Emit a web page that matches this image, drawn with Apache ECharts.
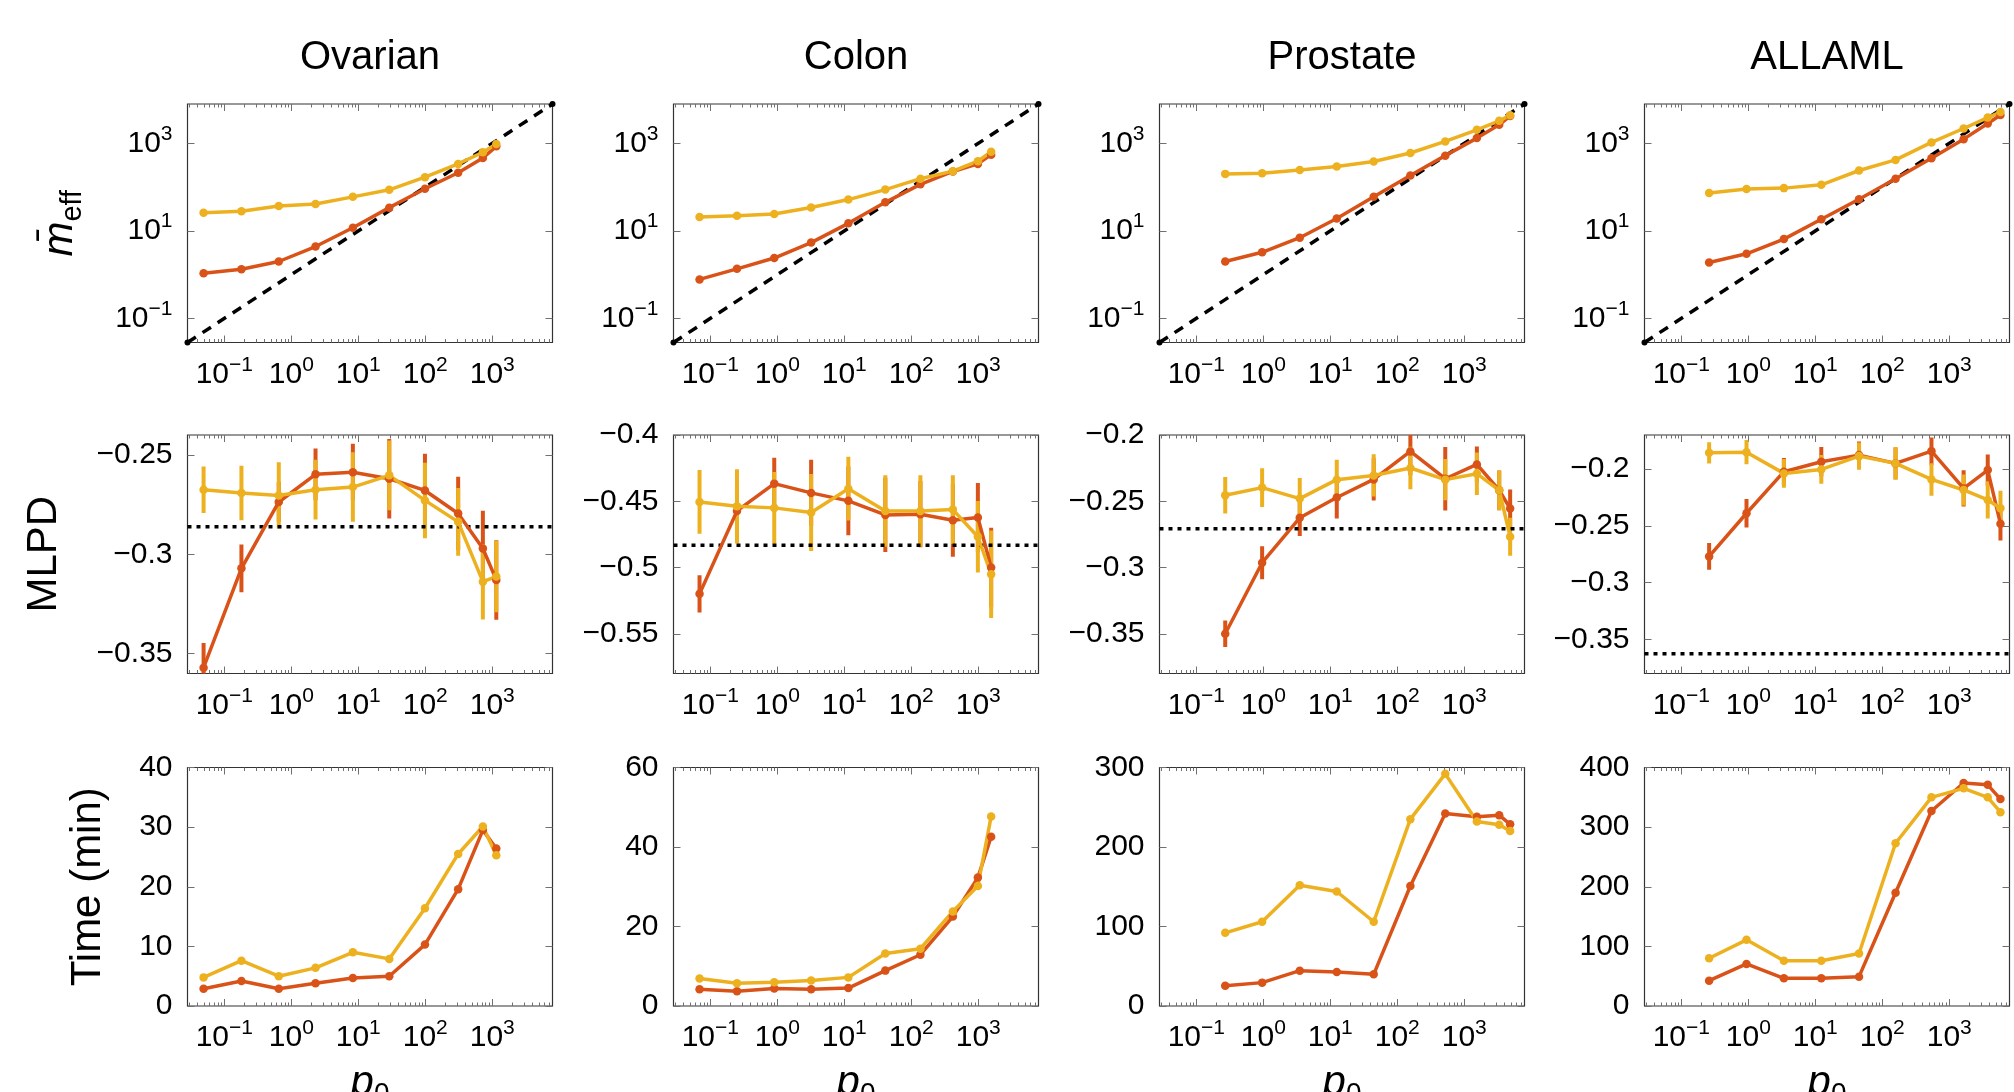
<!DOCTYPE html>
<html>
<head>
<meta charset="utf-8">
<script src="https://cdn.jsdelivr.net/npm/echarts@6/dist/echarts.min.js"></script>
<style>
  html, body { margin: 0; padding: 0; background: #fff; }
  #chart { width: 2014px; height: 1092px; }
</style>
</head>
<body>
<div id="chart"></div>
<script>
// column titles
const datasetNames = ["Ovarian", "Colon", "Prostate", "ALLAML"];

// p0 (x values, log axis)
const ovarianP0 = [0.049, 0.18, 0.65, 2.3, 8.3, 29, 99, 310, 725, 1150];
const colonP0 = [0.069, 0.25, 0.9, 3.2, 11.5, 41, 137, 418, 988, 1560];
const prostateP0 = [0.27, 0.96, 3.5, 12.5, 44.5, 157, 521, 1545, 3330, 4850];
const allamlP0 = [0.26, 0.94, 3.4, 12.3, 45, 158, 543, 1640, 3760, 5820];

// row 1: mean effective number of features
const ovarianMeffRed = [1.08, 1.33, 2.0, 4.4, 11.8, 34, 92, 213, 464, 855];
const ovarianMeffYellow = [26, 28, 37, 41, 60, 87, 169, 340, 627, 967];
const colonMeffRed = [0.78, 1.36, 2.4, 5.4, 14.9, 45, 116, 228, 340, 553];
const colonMeffYellow = [20.7, 22.2, 24.3, 34.4, 52, 88, 156, 232, 391, 647];
const prostateMeffRed = [2.0, 3.25, 7.0, 19.2, 60, 185, 525, 1320, 2650, 4250];
const prostateMeffYellow = [201, 208, 248, 296, 384, 604, 1110, 2040, 3270, 4400];
const allamlMeffRed = [1.9, 3.0, 6.5, 18.4, 53, 155, 457, 1250, 2850, 4470];
const allamlMeffYellow = [73.5, 90.6, 95, 113, 240, 419, 1054, 2190, 3890, 5220];

// row 2: MLPD with error bars
const ovarianMlpdRed = [-0.3571, -0.3071, -0.2737, -0.2598, -0.2587, -0.262, -0.2679, -0.2795, -0.2971, -0.3129];
const ovarianMlpdRedErr = [0.0125, 0.012, 0.01, 0.013, 0.0143, 0.02, 0.0185, 0.0185, 0.019, 0.02];
const ovarianMlpdYellow = [-0.2675, -0.2692, -0.2704, -0.2675, -0.2662, -0.2603, -0.2729, -0.2837, -0.3138, -0.3112];
const ovarianMlpdYellowErr = [0.0117, 0.0137, 0.0167, 0.015, 0.0175, 0.0175, 0.019, 0.017, 0.019, 0.018];
const colonMlpdRed = [-0.5199, -0.4573, -0.4367, -0.4437, -0.4497, -0.4603, -0.4598, -0.4643, -0.4623, -0.5];
const colonMlpdRedErr = [0.014, 0.02, 0.0196, 0.025, 0.026, 0.028, 0.025, 0.0276, 0.026, 0.03];
const colonMlpdYellow = [-0.4505, -0.4538, -0.455, -0.4585, -0.4405, -0.4573, -0.4573, -0.4563, -0.4768, -0.5051];
const colonMlpdYellowErr = [0.024, 0.028, 0.027, 0.029, 0.024, 0.027, 0.027, 0.026, 0.027, 0.033];
const prostateMlpdRed = [-0.35, -0.2964, -0.2625, -0.2472, -0.2335, -0.2124, -0.233, -0.2222, -0.2417, -0.2555];
const prostateMlpdRedErr = [0.01, 0.0125, 0.0138, 0.0158, 0.016, 0.018, 0.024, 0.0135, 0.015, 0.0143];
const prostateMlpdYellow = [-0.2455, -0.2397, -0.248, -0.2337, -0.2305, -0.2249, -0.2337, -0.2292, -0.2417, -0.2768];
const prostateMlpdYellowErr = [0.0138, 0.0147, 0.0155, 0.015, 0.016, 0.016, 0.0155, 0.016, 0.015, 0.0143];
const allamlMlpdRed = [-0.2769, -0.2389, -0.2023, -0.1936, -0.1877, -0.195, -0.1842, -0.217, -0.2009, -0.2482];
const allamlMlpdRedErr = [0.0117, 0.0125, 0.012, 0.013, 0.012, 0.014, 0.012, 0.016, 0.0137, 0.0146];
const allamlMlpdYellow = [-0.1857, -0.1851, -0.2038, -0.2003, -0.1886, -0.195, -0.2091, -0.2184, -0.2272, -0.2345];
const allamlMlpdYellowErr = [0.0094, 0.0107, 0.0127, 0.0127, 0.012, 0.0145, 0.0143, 0.0136, 0.0164, 0.0155];
// dotted reference level per column
const mlpdBaseline = [-0.2862, -0.4833, -0.2708, -0.3626];

// row 3: time (min)
const ovarianTimeRed = [2.9, 4.2, 2.9, 3.8, 4.7, 5.0, 10.3, 19.6, 29.5, 26.4];
const ovarianTimeYellow = [4.8, 7.6, 5.0, 6.4, 9.0, 7.9, 16.4, 25.5, 30.1, 25.3];
const colonTimeRed = [4.2, 3.7, 4.4, 4.2, 4.5, 8.9, 12.9, 22.5, 32.3, 42.6];
const colonTimeYellow = [6.9, 5.7, 6.0, 6.4, 7.2, 13.2, 14.4, 23.8, 30.2, 47.7];
const prostateTimeRed = [25.6, 29.4, 44.4, 42.8, 39.8, 151, 242, 238, 240, 228.5];
const prostateTimeYellow = [92, 106, 152, 144, 106, 235, 292, 232, 228, 220];
const allamlTimeRed = [42.5, 70.5, 46.4, 46.4, 49.2, 190, 327, 374, 371, 347];
const allamlTimeYellow = [80, 111, 76, 76, 88, 273, 350, 365, 350, 325];

// ticks
const xTicks = [0.1, 1, 10, 100, 1000];
const meffTicks = [0.1, 10, 1000];
const mlpdTicks = [[-0.35, -0.3, -0.25], [-0.55, -0.5, -0.45, -0.4], [-0.35, -0.3, -0.25, -0.2], [-0.35, -0.3, -0.25, -0.2]];
const mlpdRange = [[-0.36, -0.24], [-0.58, -0.4], [-0.38, -0.2], [-0.38, -0.17]];
const timeTicks = [[0, 10, 20, 30, 40], [0, 20, 40, 60], [0, 100, 200, 300], [0, 100, 200, 300, 400]];

const p0List = [ovarianP0, colonP0, prostateP0, allamlP0];
const meffRed = [ovarianMeffRed, colonMeffRed, prostateMeffRed, allamlMeffRed];
const meffYellow = [ovarianMeffYellow, colonMeffYellow, prostateMeffYellow, allamlMeffYellow];
const mlpdRed = [ovarianMlpdRed, colonMlpdRed, prostateMlpdRed, allamlMlpdRed];
const mlpdRedErr = [ovarianMlpdRedErr, colonMlpdRedErr, prostateMlpdRedErr, allamlMlpdRedErr];
const mlpdYellow = [ovarianMlpdYellow, colonMlpdYellow, prostateMlpdYellow, allamlMlpdYellow];
const mlpdYellowErr = [ovarianMlpdYellowErr, colonMlpdYellowErr, prostateMlpdYellowErr, allamlMlpdYellowErr];
const timeRed = [ovarianTimeRed, colonTimeRed, prostateTimeRed, allamlTimeRed];
const timeYellow = [ovarianTimeYellow, colonTimeYellow, prostateTimeYellow, allamlTimeYellow];

const RED = "#D95319";
const YELLOW = "#EDB120";
const FONT = "Liberation Sans";
const TICK = "#707070";

const xMin = Math.pow(10, -1.55);
const xMax = Math.pow(10, 3.9);

// minor ticks of the log axes (2..9 times each decade)
const xMinor = [];
for (let e = -2; e <= 3; e++) {
  for (let k = 2; k <= 9; k++) {
    const v = k * Math.pow(10, e);
    if (v > xMin && v < xMax) xMinor.push(v);
  }
}

const colLeft = [187.5, 673.5, 1159.5, 1644.5];
const rowTop = [104, 435, 767.5];
const W = 365, H = 238.5;

const supRich = {
  b: { fontSize: 30, lineHeight: 40, fontFamily: FONT, color: "#000", verticalAlign: "middle" },
  e: { fontSize: 21, lineHeight: 18, fontFamily: FONT, color: "#000", verticalAlign: "top" }
};

function logLabel(v) {
  const e = Math.round(Math.log10(v));
  return "{b|10}{e|" + (e < 0 ? "\u2212" + (-e) : e) + "}";
}
function numLabel(v) {
  if (v < 0) return "\u2212" + String(+(-v).toFixed(2));
  return String(v);
}

const grids = [], xAxes = [], yAxes = [], series = [];

function addPanel(row, col) {
  const g = grids.length;
  grids.push({
    left: colLeft[col], top: rowTop[row], width: W, height: H,
    show: true, borderColor: "#333", borderWidth: 1.2, backgroundColor: "transparent"
  });

  const xi = xAxes.length;
  const xBase = {
    type: "log", gridIndex: g, min: xMin, max: xMax,
    axisLine: { show: false, onZero: false },
    splitLine: { show: false }
  };
  const majorTick = { show: true, inside: true, length: 7, customValues: xTicks, lineStyle: { color: TICK, width: 1 } };
  const minorTick = { show: true, inside: true, length: 3.5, customValues: xMinor, lineStyle: { color: TICK, width: 1 } };
  xAxes.push(Object.assign({}, xBase, {
    position: "bottom", axisTick: majorTick,
    axisLabel: { show: true, customValues: xTicks, formatter: logLabel, margin: 12, rich: supRich }
  }));
  xAxes.push(Object.assign({}, xBase, { position: "bottom", axisTick: minorTick, axisLabel: { show: false } }));
  xAxes.push(Object.assign({}, xBase, { position: "top", axisTick: majorTick, axisLabel: { show: false } }));
  xAxes.push(Object.assign({}, xBase, { position: "top", axisTick: minorTick, axisLabel: { show: false } }));

  const yi = yAxes.length;
  let yBase, ticks, fmt, rich;
  if (row === 0) {
    yBase = { type: "log", min: xMin, max: xMax };
    ticks = meffTicks; fmt = logLabel; rich = supRich;
  } else if (row === 1) {
    yBase = { type: "value", min: mlpdRange[col][0], max: mlpdRange[col][1] };
    ticks = mlpdTicks[col]; fmt = numLabel;
  } else {
    yBase = { type: "value", min: 0, max: timeTicks[col][timeTicks[col].length - 1] };
    ticks = timeTicks[col]; fmt = numLabel;
  }
  const yTick = { show: true, inside: true, length: 7, customValues: ticks, lineStyle: { color: TICK, width: 1 } };
  yAxes.push(Object.assign({ gridIndex: g, position: "left" }, yBase, {
    axisLine: { show: false, onZero: false }, splitLine: { show: false }, axisTick: yTick,
    axisLabel: {
      show: true, customValues: ticks, formatter: fmt, margin: 15, rich: rich,
      fontSize: 30, fontFamily: FONT, color: "#000"
    }
  }));
  yAxes.push(Object.assign({ gridIndex: g, position: "right" }, yBase, {
    axisLine: { show: false, onZero: false }, splitLine: { show: false }, axisTick: yTick,
    axisLabel: { show: false }
  }));

  const xs = p0List[col];
  const lineSeries = (ys, color) => ({
    type: "line", xAxisIndex: xi, yAxisIndex: yi,
    data: xs.map((x, i) => [x, ys[i]]),
    symbol: "circle", symbolSize: 8.5, showSymbol: true,
    lineStyle: { color: color, width: 3.5 }, itemStyle: { color: color },
    z: 3
  });
  const errSeries = (ys, errs, color) => ({
    type: "custom", xAxisIndex: xi, yAxisIndex: yi, clip: true,
    data: xs.map((x, i) => [x, ys[i] - errs[i], ys[i] + errs[i]]),
    encode: { x: 0, y: [1, 2] },
    renderItem: function (params, api) {
      const lo = api.coord([api.value(0), api.value(1)]);
      const hi = api.coord([api.value(0), api.value(2)]);
      return {
        type: "line",
        shape: { x1: lo[0], y1: lo[1], x2: hi[0], y2: hi[1] },
        style: { stroke: color, lineWidth: 4 }
      };
    },
    z: 2
  });

  if (row === 0) {
    series.push({
      type: "line", xAxisIndex: xi, yAxisIndex: yi,
      data: [[xMin, xMin], [xMax, xMax]],
      symbol: "circle", symbolSize: 6, itemStyle: { color: "#000" },
      lineStyle: { color: "#000", width: 3.5, type: [10, 8] }, z: 2
    });
    series.push(lineSeries(meffRed[col], RED));
    series.push(lineSeries(meffYellow[col], YELLOW));
  } else if (row === 1) {
    series.push({
      type: "line", xAxisIndex: xi, yAxisIndex: yi,
      data: [[xMin, mlpdBaseline[col]], [xMax, mlpdBaseline[col]]],
      symbol: "none", lineStyle: { color: "#000", width: 3.5, type: [4, 5] }, z: 2
    });
    series.push(errSeries(mlpdRed[col], mlpdRedErr[col], RED));
    series.push(errSeries(mlpdYellow[col], mlpdYellowErr[col], YELLOW));
    series.push(lineSeries(mlpdRed[col], RED));
    series.push(lineSeries(mlpdYellow[col], YELLOW));
  } else {
    series.push(lineSeries(timeRed[col], RED));
    series.push(lineSeries(timeYellow[col], YELLOW));
  }
}

for (let r = 0; r < 3; r++) {
  for (let c = 0; c < 4; c++) addPanel(r, c);
}

// titles, axis names
const graphics = [];
datasetNames.forEach((name, c) => {
  graphics.push({
    type: "text", x: colLeft[c] + W / 2, y: 58,
    style: { text: name, font: "40px " + FONT, fill: "#000", align: "center", verticalAlign: "middle", textAlign: "center", textVerticalAlign: "middle" }
  });
  graphics.push({
    type: "text", x: colLeft[c] + W / 2, y: 1062,
    style: {
      text: "{p|p}{z|0}", align: "center", verticalAlign: "top", textAlign: "center", textVerticalAlign: "top",
      rich: {
        p: { fontSize: 42, lineHeight: 42, fontFamily: FONT, fontStyle: "italic", fill: "#000", verticalAlign: "top" },
        z: { fontSize: 28, lineHeight: 28, fontFamily: FONT, fill: "#000", verticalAlign: "top", padding: [18, 0, 0, 0] }
      }
    }
  });
});
graphics.push({
  type: "text", x: 60, y: rowTop[0] + H / 2, rotation: Math.PI / 2,
  style: {
    text: "{m|m\u0304}{s|eff}", align: "center", verticalAlign: "middle", textAlign: "center", textVerticalAlign: "middle",
    rich: {
      m: { fontSize: 42, lineHeight: 42, fontFamily: FONT, fontStyle: "italic", fill: "#000", verticalAlign: "top" },
      s: { fontSize: 29, lineHeight: 29, fontFamily: FONT, fill: "#000", verticalAlign: "top", padding: [19, 0, 0, 0] }
    }
  }
});
graphics.push({
  type: "text", x: 44, y: rowTop[1] + H / 2, rotation: Math.PI / 2,
  style: { text: "MLPD", font: "42px " + FONT, fill: "#000", align: "center", verticalAlign: "middle", textAlign: "center", textVerticalAlign: "middle" }
});
graphics.push({
  type: "text", x: 88, y: rowTop[2] + H / 2, rotation: Math.PI / 2,
  style: { text: "Time (min)", font: "42px " + FONT, fill: "#000", align: "center", verticalAlign: "middle", textAlign: "center", textVerticalAlign: "middle" }
});

const chart = echarts.init(document.getElementById("chart"));
chart.setOption({
  animation: false,
  backgroundColor: "#fff",
  textStyle: { fontFamily: FONT, color: "#000" },
  grid: grids,
  xAxis: xAxes,
  yAxis: yAxes,
  series: series,
  graphic: graphics
});
</script>
</body>
</html>
